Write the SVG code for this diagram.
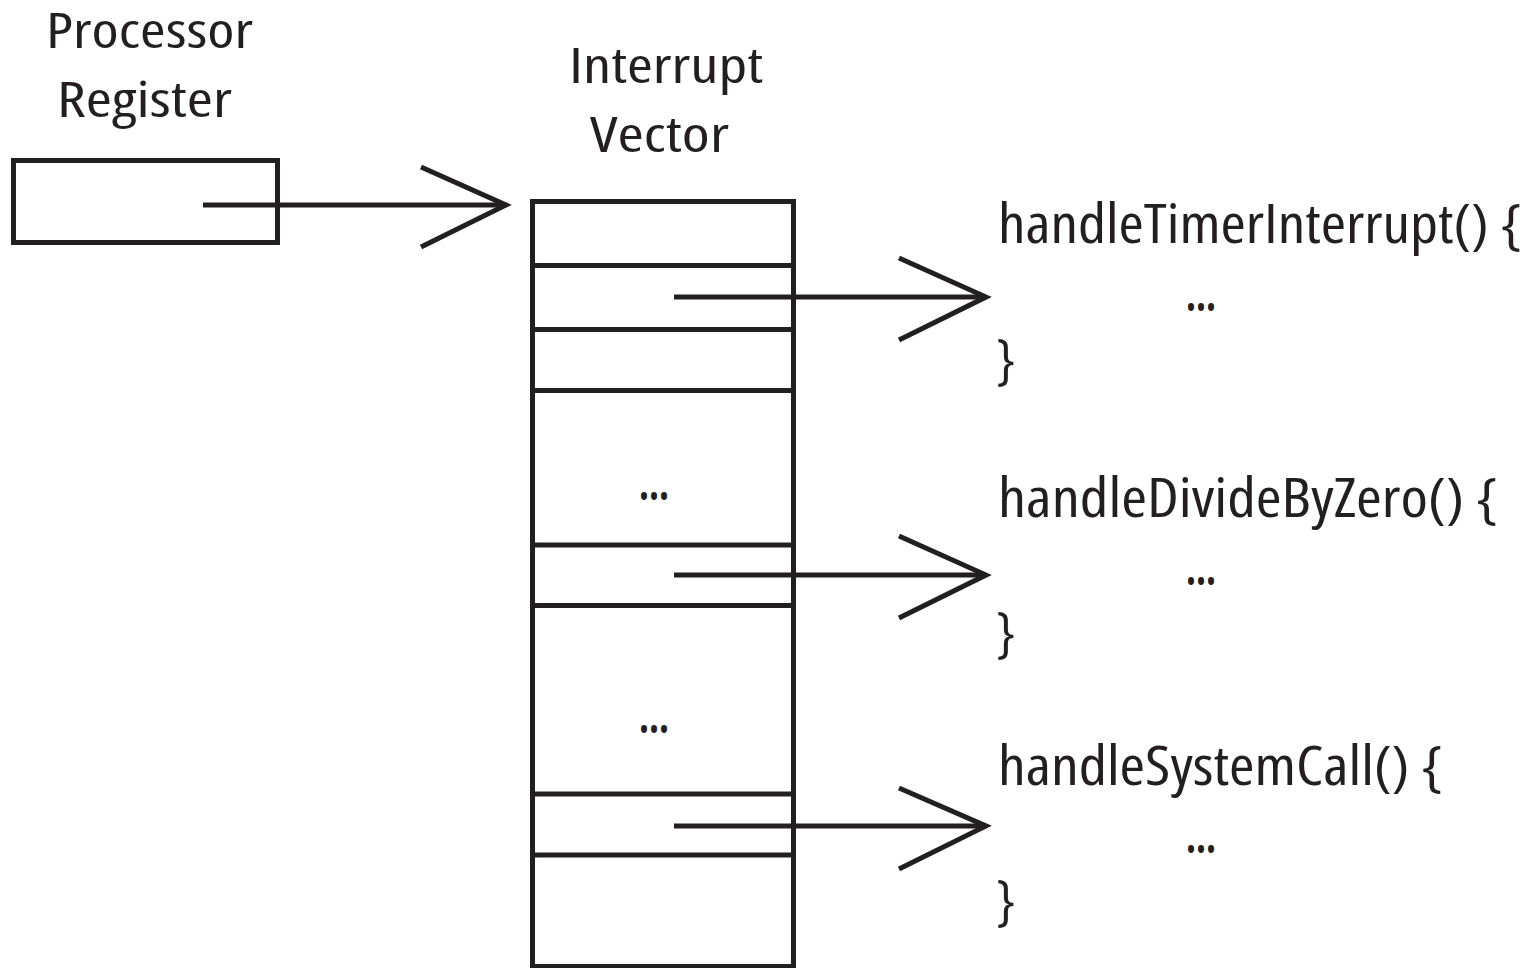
<svg xmlns="http://www.w3.org/2000/svg" width="1537" height="968" viewBox="0 0 1537 968">
<style>
.s{fill:none;stroke:#231f20;stroke-width:5;}
.t{font-family:"Open Sans","Liberation Sans",sans-serif;fill:#231f20;font-stretch:75%;font-weight:500;}
.lbl{font-size:49px;}
.code{font-size:55px;}
.dots{font-size:48px;font-weight:700;font-stretch:100%;}
</style>
<rect x="0" y="0" width="1537" height="968" fill="#ffffff"/>
<g id="register">
<text class="t lbl" x="46" y="48" textLength="207" lengthAdjust="spacingAndGlyphs">Processor</text>
<text class="t lbl" x="57" y="117" textLength="175" lengthAdjust="spacingAndGlyphs">Register</text>
<rect class="s" x="13.5" y="160.5" width="264" height="82"/>
</g>
<g id="vector">
<text class="t lbl" x="569" y="83" textLength="194" lengthAdjust="spacingAndGlyphs">Interrupt</text>
<text class="t lbl" x="590" y="152" textLength="139" lengthAdjust="spacingAndGlyphs">Vector</text>
<rect class="s" x="532.5" y="201.5" width="261" height="765"/>
<line class="s" x1="532.5" y1="265.5" x2="793.5" y2="265.5"/>
<line class="s" x1="532.5" y1="329.5" x2="793.5" y2="329.5"/>
<line class="s" x1="532.5" y1="390.5" x2="793.5" y2="390.5"/>
<line class="s" x1="532.5" y1="545" x2="793.5" y2="545"/>
<line class="s" x1="532.5" y1="605.5" x2="793.5" y2="605.5"/>
<line class="s" x1="532.5" y1="794" x2="793.5" y2="794"/>
<line class="s" x1="532.5" y1="855" x2="793.5" y2="855"/>
<text class="t dots" x="639" y="500" textLength="30" lengthAdjust="spacingAndGlyphs">...</text>
<text class="t dots" x="639" y="733" textLength="30" lengthAdjust="spacingAndGlyphs">...</text>
</g>
<g id="timer">
<text class="t code" x="998" y="243" textLength="524" lengthAdjust="spacingAndGlyphs">handleTimerInterrupt() {</text>
<text class="t dots" x="1186" y="311" textLength="30" lengthAdjust="spacingAndGlyphs">...</text>
<text class="t code" x="996" y="378">}</text>
</g>
<g id="divide">
<text class="t code" x="998" y="517" textLength="500" lengthAdjust="spacingAndGlyphs">handleDivideByZero() {</text>
<text class="t dots" x="1186" y="585" textLength="30" lengthAdjust="spacingAndGlyphs">...</text>
<text class="t code" x="996" y="651">}</text>
</g>
<g id="syscall">
<text class="t code" x="998" y="785" textLength="445" lengthAdjust="spacingAndGlyphs">handleSystemCall() {</text>
<text class="t dots" x="1186" y="853" textLength="30" lengthAdjust="spacingAndGlyphs">...</text>
<text class="t code" x="996" y="919">}</text>
</g>
<g id="connectors">
<line class="s" x1="203" y1="205" x2="506" y2="205"/>
<polyline class="s" points="421,167 506,205 421,247"/>
<line class="s" x1="674" y1="297" x2="986" y2="297"/>
<polyline class="s" points="899,258 986,297 899,340"/>
<line class="s" x1="674" y1="575" x2="986" y2="575"/>
<polyline class="s" points="899,536 986,575 899,618"/>
<line class="s" x1="674" y1="826" x2="986" y2="826"/>
<polyline class="s" points="899,788 986,826 899,869"/>
</g>
</svg>
